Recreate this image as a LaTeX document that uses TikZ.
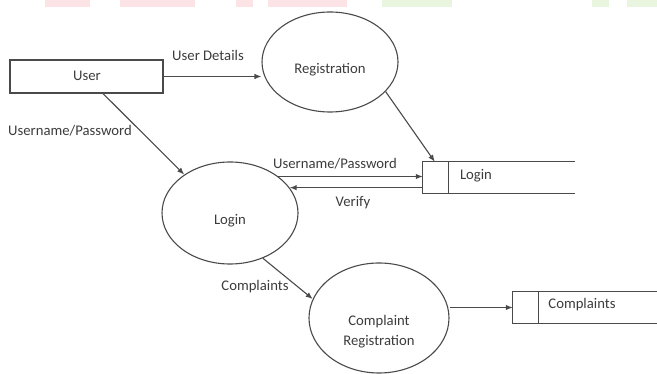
\documentclass[tikz,border=0pt]{standalone}
\usepackage{fontspec}
\setmainfont{Carlito}
\usetikzlibrary{arrows.meta,shapes.geometric}
\definecolor{linec}{HTML}{4A4A4A}
\definecolor{txtc}{HTML}{3C3C3C}
\definecolor{wmred}{HTML}{FCE3E5}
\definecolor{wmgreen}{HTML}{E9F5DF}
\begin{document}
\begin{tikzpicture}[x=1pt,y=-1pt,
  line/.style={draw=linec, line width=1.1pt},
  flow/.style={line, -{Latex[length=7pt,width=5.5pt]}},
  proc/.style={ellipse, line, inner sep=0pt},
  boxent/.style={rectangle, line, inner sep=0pt},
  storebox/.style={rectangle, inner sep=0pt},
  lbl/.style={font=\fontsize{14.7}{20}\selectfont, text=txtc, inner sep=0pt, align=center}
]
\useasboundingbox (0,0) rectangle (657,374);
% faint watermark fragments at the top edge
\fill[wmred] (45,0) rectangle (90,7);
\fill[wmred] (120,0) rectangle (195,7);
\fill[wmred] (236,0) rectangle (253,7);
\fill[wmred] (268,0) rectangle (347,7);
\fill[wmgreen] (382,0) rectangle (452,7);
\fill[wmgreen] (592,0) rectangle (609,7);
\fill[wmgreen] (627,0) rectangle (657,7);

% external entity
\node[boxent, minimum width=153pt, minimum height=33pt] (user) at (86.5,76.5) {};
\node[lbl] (usertxt) at (87,76) {User};

% processes
\node[proc, minimum width=136pt, minimum height=100pt] (reg) at (330,62) {};
\node[lbl] (regtxt) at (330,70) {Registration};
\node[proc, minimum width=136pt, minimum height=102pt] (loginp) at (230,213) {};
\node[lbl] (logintxt) at (230,221) {Login};
\node[proc, minimum width=140pt, minimum height=110pt] (cr) at (379,318) {};
\node[lbl] (crtxt) at (379,332) {Complaint\\Registration};

% data stores
\node[storebox, minimum width=152pt, minimum height=31pt] (lstore) at (499,177.5) {};
\draw[line] (lstore.north east) -- (lstore.north west) -- (lstore.south west) -- (lstore.south east);
\draw[line] ([xshift=26pt]lstore.north west) -- ([xshift=26pt]lstore.south west);
\node[lbl] (lstoretxt) at (476,176) {Login};

\node[storebox, minimum width=145pt, minimum height=31pt] (cstore) at (585.5,307.5) {};
\draw[line] (cstore.north east) -- (cstore.north west) -- (cstore.south west) -- (cstore.south east);
\draw[line] ([xshift=26pt]cstore.north west) -- ([xshift=26pt]cstore.south west);
\node[lbl] (cstoretxt) at (582,305) {Complaints};

% flows
\draw[flow] (user.east) -- (user.east -| reg.west);
\node[lbl] (f1) at (208,55) {User Details};
\draw[flow] (reg.-28) -- ([xshift=12pt]lstore.north west);
\draw[flow] ([xshift=16.5pt]user.south) -- (loginp.140);
\node[lbl] (f2) at (70,131) {Username/Password};
\draw[flow] (loginp.37) -- (loginp.37 -| lstore.west);
\node[lbl] (f3) at (335,164) {Username/Password};
\draw[flow] (loginp.23 -| lstore.west) -- (loginp.23);
\node[lbl] (f4) at (353,203) {Verify};
\draw[flow] (loginp.-54) -- (cr.164);
\node[lbl] (f5) at (255,287) {Complaints};
\draw[flow] (cstore.west -| cr.east) -- (cstore.west);
\end{tikzpicture}
\end{document}
